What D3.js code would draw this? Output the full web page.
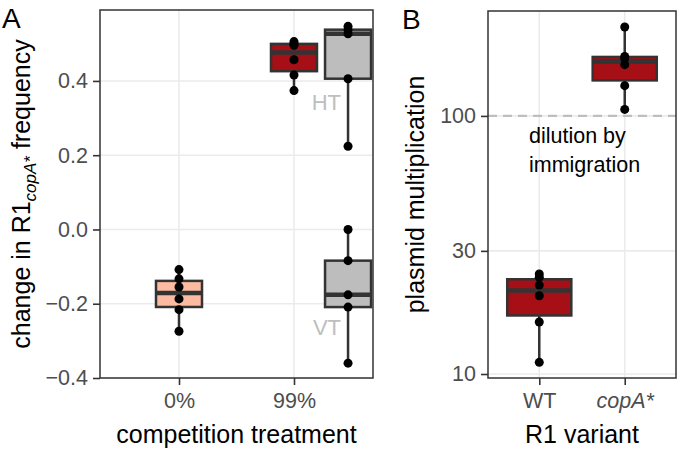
<!DOCTYPE html>
<html><head><meta charset="utf-8">
<script src="https://cdn.jsdelivr.net/npm/d3@7"></script>
<style>
html,body{margin:0;padding:0;background:#fff;}
svg text{font-family:"Liberation Sans",Arial,Helvetica,sans-serif;}
</style>
</head><body>
<svg id="chart" width="677" height="452"></svg>
<script>
// ---------------- data ----------------
const treatments = ["0%", "99%"];
const freq0 = [-0.108, -0.133, -0.155, -0.187, -0.216, -0.274];
const freq99 = [0.374, 0.416, 0.457, 0.496, 0.501, 0.506];
const freq99HT = [0.224, 0.406, 0.527, 0.538, 0.547];
const freq99VT = [0.0, -0.084, -0.176, -0.209, -0.360];
const yTicksA = [-0.4, -0.2, 0.0, 0.2, 0.4];

const variants = ["WT", "copA*"];
const multWT = [24.4, 23.7, 22.1, 20.1, 15.9, 11.1];
const multCopA = [221, 170, 167, 158, 131, 106];
const yTicksB = [10, 30, 100];
const dilutionLevel = 100;

// ---------------- helpers ----------------
function boxStats(vals, tf, inv) {
  const t = vals.map(tf).sort(d3.ascending);
  const q1 = d3.quantile(t, 0.25), med = d3.quantile(t, 0.5), q3 = d3.quantile(t, 0.75);
  const iqr = q3 - q1;
  const lo = d3.min(t.filter(v => v >= q1 - 1.5 * iqr));
  const hi = d3.max(t.filter(v => v <= q3 + 1.5 * iqr));
  return {q1: inv(q1), med: inv(med), q3: inv(q3), lo: inv(lo), hi: inv(hi)};
}
const ident = v => v;

const svg = d3.select("#chart");
const GRID = "#EBEBEB", DARK = "#333333", TICKTXT = "#4D4D4D";
const FS_TICK = 21.5, FS_TITLE = 25;

function drawBox(g, cx, halfW, st, y, fill, values) {
  g.append("line").attr("x1", cx).attr("x2", cx).attr("y1", y(st.q3)).attr("y2", y(st.hi))
    .attr("stroke", DARK).attr("stroke-width", 2.5);
  g.append("line").attr("x1", cx).attr("x2", cx).attr("y1", y(st.q1)).attr("y2", y(st.lo))
    .attr("stroke", DARK).attr("stroke-width", 2.5);
  g.append("rect").attr("x", cx - halfW).attr("width", 2 * halfW)
    .attr("y", y(st.q3)).attr("height", y(st.q1) - y(st.q3))
    .attr("fill", fill).attr("stroke", DARK).attr("stroke-width", 2.5);
  g.append("line").attr("x1", cx - halfW).attr("x2", cx + halfW).attr("y1", y(st.med)).attr("y2", y(st.med))
    .attr("stroke", DARK).attr("stroke-width", 4.5);
  g.selectAll(null).data(values).join("circle")
    .attr("cx", cx).attr("cy", d => y(d)).attr("r", 4.5).attr("fill", "#000");
}

function styleAxis(ax) {
  ax.select(".domain").remove();
  ax.selectAll(".tick line").attr("stroke", DARK).attr("stroke-width", 1.6);
  ax.selectAll(".tick text").attr("fill", TICKTXT).attr("font-size", FS_TICK)
    .attr("font-family", "Liberation Sans, Arial, sans-serif");
}

// ---------------- Panel A ----------------
const A = {l: 100, r: 373, t: 10, b: 378};
const xA = d3.scalePoint().domain(treatments).range([A.l, A.r]).padding(0.687);
const yA = d3.scaleLinear().domain([-0.4, 0.591]).range([A.b, A.t]);
const stepA = xA.step();
const gA = svg.append("g");

gA.selectAll(null).data(yTicksA).join("line")
  .attr("x1", A.l).attr("x2", A.r).attr("y1", d => yA(d)).attr("y2", d => yA(d))
  .attr("stroke", GRID).attr("stroke-width", 1.6);
gA.selectAll(null).data(treatments).join("line")
  .attr("x1", d => xA(d)).attr("x2", d => xA(d)).attr("y1", A.t).attr("y2", A.b)
  .attr("stroke", GRID).attr("stroke-width", 1.6);

const dodge = 0.47 * stepA;
const halfA = 0.2 * stepA;
const groupsA = [
  {x: xA("0%"), vals: freq0, fill: "#FCBBA1"},
  {x: xA("99%"), vals: freq99, fill: "#A50F15"},
  {x: xA("99%") + dodge, vals: freq99HT, fill: "#BDBDBD"},
  {x: xA("99%") + dodge, vals: freq99VT, fill: "#BDBDBD"}
];
groupsA.forEach(gr => drawBox(gA.append("g"), gr.x, halfA, boxStats(gr.vals, ident, ident), yA, gr.fill, gr.vals));

const stHT = boxStats(freq99HT, ident, ident), stVT = boxStats(freq99VT, ident, ident);
gA.append("text").attr("x", xA("99%") + dodge - 7).attr("y", yA(stHT.q1) + 31)
  .attr("text-anchor", "end").attr("font-size", 22).attr("fill", "#BEBEBE").text("HT");
gA.append("text").attr("x", xA("99%") + dodge - 7).attr("y", yA(stVT.q1) + 28)
  .attr("text-anchor", "end").attr("font-size", 22).attr("fill", "#BEBEBE").text("VT");

gA.append("rect").attr("x", A.l).attr("y", A.t).attr("width", A.r - A.l).attr("height", A.b - A.t)
  .attr("fill", "none").attr("stroke", DARK).attr("stroke-width", 1.5);

const axAy = gA.append("g").attr("transform", `translate(${A.l},0)`)
  .call(d3.axisLeft(yA).tickValues(yTicksA).tickSize(7).tickPadding(5).tickFormat(d3.format(".1f")));
const axAx = gA.append("g").attr("transform", `translate(0,${A.b})`)
  .call(d3.axisBottom(xA).tickSize(7).tickPadding(8));
styleAxis(axAy); styleAxis(axAx);
axAy.selectAll(".tick text").text(d => d3.format(".1f")(d).replace("-", "\u2212"));

gA.append("text").attr("x", (A.l + A.r) / 2).attr("y", 443).attr("text-anchor", "middle")
  .attr("font-size", FS_TITLE).attr("fill", "#000").text("competition treatment");
const ytA = gA.append("text").attr("transform", `translate(30,${(A.t + A.b) / 2}) rotate(-90)`)
  .attr("text-anchor", "middle").attr("font-size", FS_TITLE).attr("fill", "#000");
ytA.append("tspan").text("change in R1");
ytA.append("tspan").attr("font-size", 17).attr("font-style", "italic").attr("dy", 6).text("copA*");
ytA.append("tspan").attr("dy", -6).text(" frequency");

svg.append("text").attr("x", 2).attr("y", 28).attr("font-size", 28).attr("fill", "#000").text("A");

// ---------------- Panel B ----------------
const B = {l: 488, r: 676, t: 11, b: 378};
const xB = d3.scalePoint().domain(variants).range([B.l, B.r]).padding(0.6);
const yB = d3.scaleLog().domain([9.65, 255]).range([B.b, B.t]);
const stepB = xB.step();
const gB = svg.append("g");

gB.selectAll(null).data(yTicksB).join("line")
  .attr("x1", B.l).attr("x2", B.r).attr("y1", d => yB(d)).attr("y2", d => yB(d))
  .attr("stroke", GRID).attr("stroke-width", 1.6);
gB.selectAll(null).data(variants).join("line")
  .attr("x1", d => xB(d)).attr("x2", d => xB(d)).attr("y1", B.t).attr("y2", B.b)
  .attr("stroke", GRID).attr("stroke-width", 1.6);

gB.append("line").attr("x1", B.l).attr("x2", B.r).attr("y1", yB(dilutionLevel)).attr("y2", yB(dilutionLevel))
  .attr("stroke", "#BEBEBE").attr("stroke-width", 2.2).attr("stroke-dasharray", "9,6");

const halfB = 0.375 * stepB;
const groupsB = [
  {x: xB("WT"), vals: multWT},
  {x: xB("copA*"), vals: multCopA}
];
groupsB.forEach(gr => drawBox(gB.append("g"), gr.x, halfB,
  boxStats(gr.vals, Math.log10, v => Math.pow(10, v)), yB, "#A50F15", gr.vals));

const lab = gB.append("text").attr("font-size", 21.5).attr("fill", "#000");
lab.append("tspan").attr("x", 529).attr("y", yB(dilutionLevel) + 27).text("dilution by");
lab.append("tspan").attr("x", 529).attr("dy", 29).text("immigration");

gB.append("rect").attr("x", B.l).attr("y", B.t).attr("width", B.r - B.l).attr("height", B.b - B.t)
  .attr("fill", "none").attr("stroke", DARK).attr("stroke-width", 1.5);

const axBy = gB.append("g").attr("transform", `translate(${B.l},0)`)
  .call(d3.axisLeft(yB).tickValues(yTicksB).tickSize(7).tickPadding(5).tickFormat(d3.format("d")));
const axBx = gB.append("g").attr("transform", `translate(0,${B.b})`)
  .call(d3.axisBottom(xB).tickSize(7).tickPadding(8));
styleAxis(axBy); styleAxis(axBx);
axBx.selectAll(".tick text").attr("font-style", d => d === "copA*" ? "italic" : "normal");

gB.append("text").attr("x", (B.l + B.r) / 2).attr("y", 443).attr("text-anchor", "middle")
  .attr("font-size", FS_TITLE).attr("fill", "#000").text("R1 variant");
gB.append("text").attr("transform", `translate(424,${(B.t + B.b) / 2}) rotate(-90)`)
  .attr("text-anchor", "middle").attr("font-size", FS_TITLE).attr("fill", "#000").text("plasmid multiplication");

svg.append("text").attr("x", 402).attr("y", 29).attr("font-size", 28).attr("fill", "#000").text("B");
</script>
</body></html>
